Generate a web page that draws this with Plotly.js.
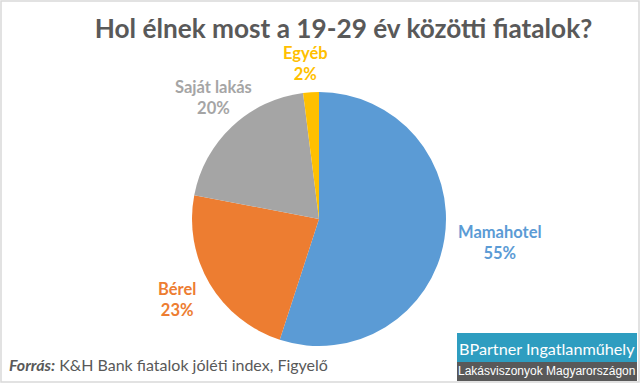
<!DOCTYPE html>
<html><head><meta charset="utf-8">
<script src="https://cdn.plot.ly/plotly-3.0.1.min.js"></script>
<style>html,body{margin:0;padding:0;background:#fff}#c{width:640px;height:383px}</style>
</head><body><div id="c"></div>
<script>
const categories = ["Mamahotel", "Bérel", "Saját lakás", "Egyéb"];
const values = [55, 23, 20, 2];
const colors = ["#5B9BD5", "#ED7D31", "#A5A5A5", "#FFC000"];
const labelPos = [[500, 242], [177, 299], [213, 98], [305, 63]];

const W = 640, H = 383;
const annotations = categories.map((c, i) => ({
  xref: "paper", yref: "paper",
  x: labelPos[i][0] / W, y: 1 - labelPos[i][1] / H,
  xanchor: "center", yanchor: "middle", showarrow: false,
  text: "<b>" + c + "<br>" + values[i] + "%</b>",
  font: {family: "Lato, 'Open Sans', sans-serif", size: 16.5, color: colors[i]},
  align: "center"
}));
annotations.push({
  xref: "paper", yref: "paper", x: 7 / W, y: 1 - 364 / H, xanchor: "left", yanchor: "middle",
  showarrow: false,
  text: "<b><i>Forrás:</i></b> K&H Bank fiatalok jóléti index, Figyelő",
  font: {family: "Lato, 'Open Sans', sans-serif", size: 16, color: "#595959"}
});
annotations.push({
  xref: "paper", yref: "paper", x: 457 / W, y: 1 - 348 / H, xanchor: "left", yanchor: "middle",
  showarrow: false, text: "BPartner Ingatlanműhely",
  font: {family: "Lato, 'Open Sans', sans-serif", size: 16.2, color: "#ffffff"}
});
annotations.push({
  xref: "paper", yref: "paper", x: 456 / W, y: 1 - 371 / H, xanchor: "left", yanchor: "middle",
  showarrow: false, text: "Lakásviszonyok Magyarországon",
  font: {family: "'Liberation Sans', Arial, sans-serif", size: 12, color: "#ffffff"}
});

const data = [{
  type: "pie", labels: categories, values: values, sort: false, direction: "clockwise", rotation: 0,
  marker: {colors: colors, line: {width: 0}},
  textinfo: "none", hoverinfo: "none", showlegend: false,
  domain: {x: [192 / W, 446 / W], y: [1 - 348 / H, 1 - 90 / H]}
}];

const layout = {
  width: W, height: H, margin: {l: 0, r: 0, t: 0, b: 0},
  paper_bgcolor: "#ffffff",
  title: {text: "<b>Hol élnek most a 19-29 év közötti fiatalok?</b>", x: 343.5 / W, xanchor: "center",
    y: 1 - 29 / H, yanchor: "middle",
    font: {family: "Lato, 'Open Sans', sans-serif", size: 26.2, color: "#595959"}},
  annotations: annotations,
  shapes: [
    {type: "rect", xref: "paper", yref: "paper", x0: 457 / W, x1: 637 / W, y0: 1 - 362 / H, y1: 1 - 333 / H,
      fillcolor: "#2E9DC0", line: {width: 0}},
    {type: "rect", xref: "paper", yref: "paper", x0: 457 / W, x1: 637 / W, y0: 1 - 381 / H, y1: 1 - 362 / H,
      fillcolor: "#595959", line: {width: 0}},
    {type: "rect", xref: "paper", yref: "paper", x0: 1 / W, x1: 1 - 1 / W, y0: 1 / H, y1: 1 - 1 / H,
      line: {color: "#D9D9D9", width: 1.5}}
  ]
};
Plotly.newPlot("c", data, layout, {displayModeBar: false, staticPlot: true});
</script></body></html>
